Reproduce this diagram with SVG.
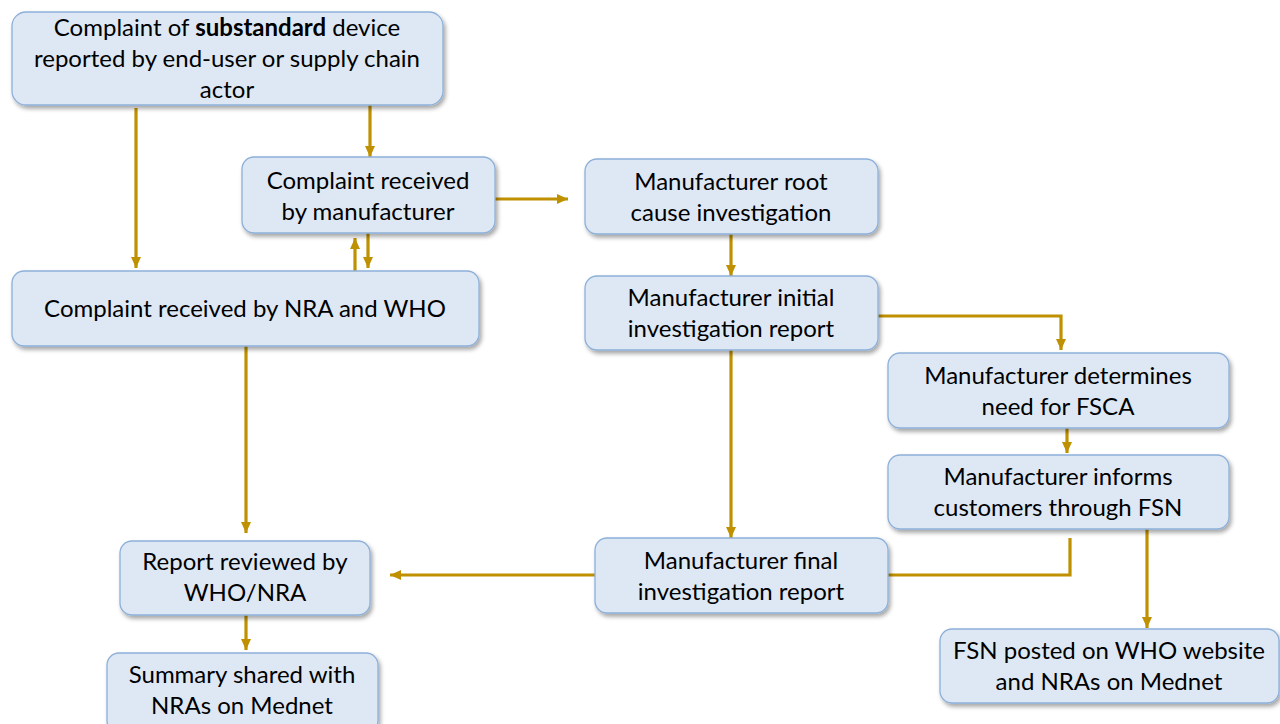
<svg xmlns="http://www.w3.org/2000/svg" width="1280" height="724" viewBox="0 0 1280 724">
<defs>
<style>
.box{fill:#DEE8F5;stroke:#8DB0D9;stroke-width:1.3}
.t{font-family:Lato,"Open Sans","Liberation Sans",sans-serif;font-size:24px;fill:#000;text-anchor:middle}
.c{fill:none;stroke:#BF9000;stroke-width:3.2}
</style>
<filter id="sh" x="-5%" y="-10%" width="112%" height="130%">
<feDropShadow dx="2" dy="3" stdDeviation="2" flood-color="#000" flood-opacity="0.35"/>
</filter>
<marker id="ah" markerUnits="userSpaceOnUse" markerWidth="12" markerHeight="12" viewBox="0 0 12 12" refX="11" refY="6" orient="auto">
<path d="M0,1 L11,6 L0,11 Z" fill="#BF9000"/>
</marker>
</defs>
<rect width="1280" height="724" fill="#fff"/>
<g id="connectors">
<path class="c" d="M136,108 V268" marker-end="url(#ah)"/>
<path class="c" d="M370,105 V157" marker-end="url(#ah)"/>
<path class="c" d="M355,271 V238" marker-end="url(#ah)"/>
<path class="c" d="M368,233 V268" marker-end="url(#ah)"/>
<path class="c" d="M495,199 H568" marker-end="url(#ah)"/>
<path class="c" d="M731,233 V276" marker-end="url(#ah)"/>
<path class="c" d="M878,316 H1061 V350" marker-end="url(#ah)"/>
<path class="c" d="M1067,428 V453" marker-end="url(#ah)"/>
<path class="c" d="M731,350 V538" marker-end="url(#ah)"/>
<path class="c" d="M1070,538 V575 H888"/>
<path class="c" d="M595,575 H390" marker-end="url(#ah)"/>
<path class="c" d="M246,346 V533" marker-end="url(#ah)"/>
<path class="c" d="M246,615 V650" marker-end="url(#ah)"/>
<path class="c" d="M1147,529 V628" marker-end="url(#ah)"/>
</g>
<g id="n1"><rect class="box" filter="url(#sh)" x="12" y="12" width="431" height="93" rx="14"/>
<text class="t" x="227" y="36">Complaint of <tspan font-weight="bold">substandard</tspan> device</text>
<text class="t" x="227" y="67">reported by end-user or supply chain</text>
<text class="t" x="227" y="98">actor</text></g>
<g id="n2"><rect class="box" filter="url(#sh)" x="242" y="157" width="253" height="76" rx="12"/>
<text class="t" x="368" y="189">Complaint received</text>
<text class="t" x="368" y="220">by manufacturer</text></g>
<g id="n3"><rect class="box" filter="url(#sh)" x="12" y="271" width="467" height="75" rx="12"/>
<text class="t" x="245" y="317">Complaint received by NRA and WHO</text></g>
<g id="n4"><rect class="box" filter="url(#sh)" x="585" y="159" width="293" height="75" rx="12"/>
<text class="t" x="731" y="190">Manufacturer root</text>
<text class="t" x="731" y="221">cause investigation</text></g>
<g id="n5"><rect class="box" filter="url(#sh)" x="585" y="276" width="293" height="74" rx="12"/>
<text class="t" x="731" y="306">Manufacturer initial</text>
<text class="t" x="731" y="337">investigation report</text></g>
<g id="n6"><rect class="box" filter="url(#sh)" x="888" y="353" width="341" height="75" rx="12"/>
<text class="t" x="1058" y="384">Manufacturer determines</text>
<text class="t" x="1058" y="415">need for FSCA</text></g>
<g id="n7"><rect class="box" filter="url(#sh)" x="888" y="455" width="341" height="74" rx="12"/>
<text class="t" x="1058" y="485">Manufacturer informs</text>
<text class="t" x="1058" y="516">customers through FSN</text></g>
<g id="n8"><rect class="box" filter="url(#sh)" x="595" y="538" width="293" height="75" rx="12"/>
<text class="t" x="741" y="569">Manufacturer final</text>
<text class="t" x="741" y="600">investigation report</text></g>
<g id="n9"><rect class="box" filter="url(#sh)" x="120" y="541" width="250" height="74" rx="12"/>
<text class="t" x="245" y="570">Report reviewed by</text>
<text class="t" x="245" y="601">WHO/NRA</text></g>
<g id="n10"><rect class="box" filter="url(#sh)" x="107" y="653" width="271" height="80" rx="12"/>
<text class="t" x="242" y="683">Summary shared with</text>
<text class="t" x="242" y="714">NRAs on Mednet</text></g>
<g id="n11"><rect class="box" filter="url(#sh)" x="940" y="629" width="339" height="74" rx="12"/>
<text class="t" x="1109" y="659">FSN posted on WHO website</text>
<text class="t" x="1109" y="690">and NRAs on Mednet</text></g>
</svg>
